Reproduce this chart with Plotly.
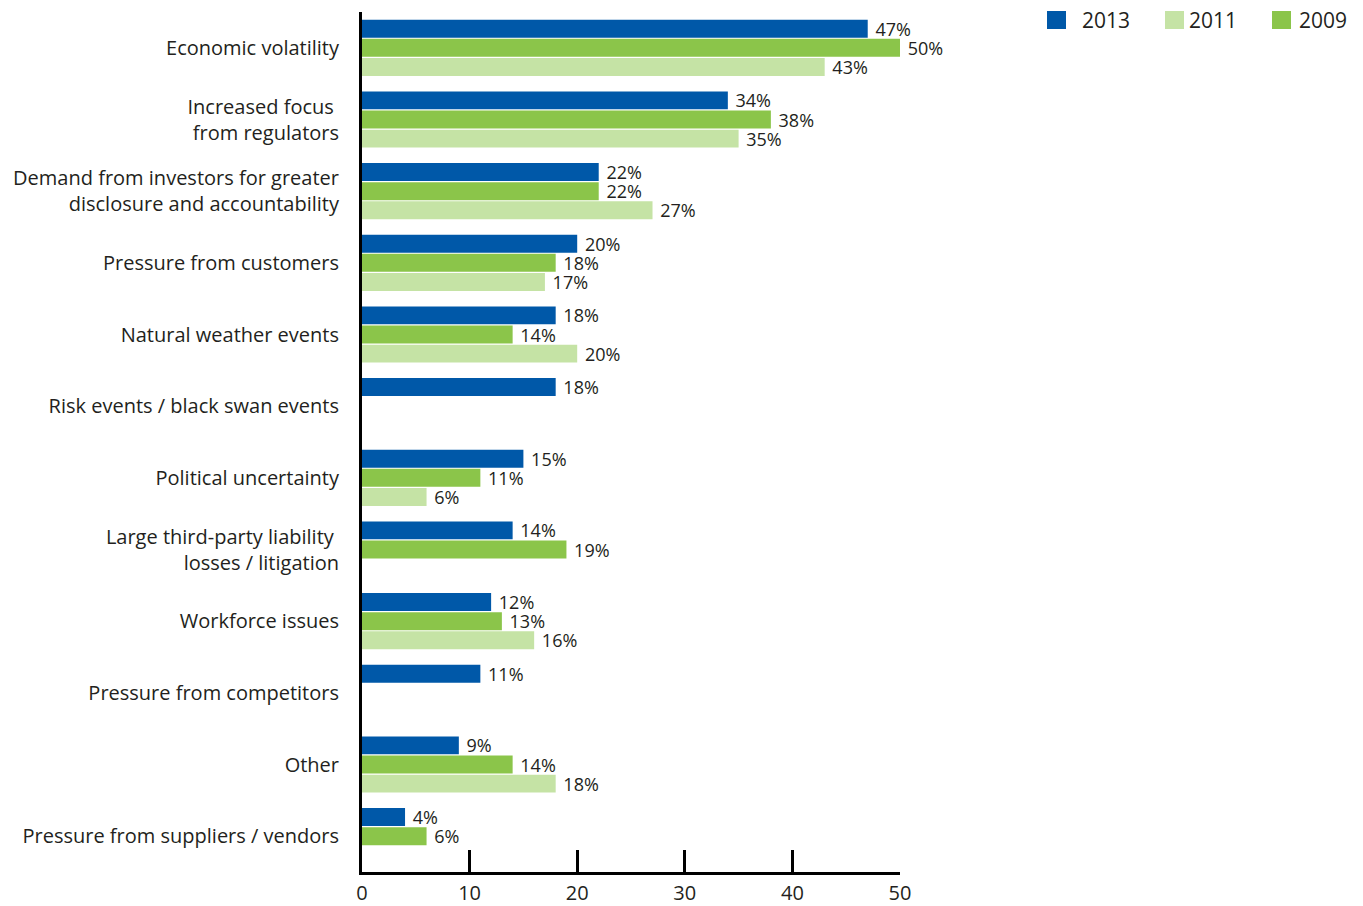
import plotly.graph_objects as go

# Drivers of risk management focus, share of respondents (%) by survey year
categories = [
    "Economic volatility",
    "Increased focus <br>from regulators",
    "Demand from investors for greater<br>disclosure and accountability",
    "Pressure from customers",
    "Natural weather events",
    "Risk events / black swan events",
    "Political uncertainty",
    "Large third-party liability <br>losses / litigation",
    "Workforce issues",
    "Pressure from competitors",
    "Other",
    "Pressure from suppliers / vendors",
]
values_2013 = [47, 34, 22, 20, 18, 18, 15, 14, 12, 11, 9, 4]
values_2009 = [50, 38, 22, 18, 14, None, 11, 19, 13, None, 14, 6]
values_2011 = [43, 35, 27, 17, 20, None, 6, None, 16, None, 18, None]

x_ticks = [0, 10, 20, 30, 40, 50]

COLOR_2013 = "#0058a8"
COLOR_2009 = "#8bc54a"
COLOR_2011 = "#c5e3a5"
TEXT = "#231f20"
FONT = "Open Sans"

W, H = 1363, 906
ML, MR, MT, MB = 362, 463, 12, 34
PW = W - ML - MR
PH = H - MT - MB


def px_x(px):
    return (px - ML) / PW


def px_y(py):
    return (H - MB - py) / PH


positions = list(range(len(categories)))

fig = go.Figure()
for name, vals, col in [
    ("2013", values_2013, COLOR_2013),
    ("2009", values_2009, COLOR_2009),
    ("2011", values_2011, COLOR_2011),
]:
    fig.add_trace(go.Bar(
        name=name,
        y=positions,
        x=vals,
        orientation="h",
        marker=dict(color=col, line=dict(width=0)),
        texttemplate="\u00a0%{x}%",
        textposition="outside",
        constraintext="none",
        outsidetextfont=dict(family=FONT, size=18, color=TEXT),
        cliponaxis=False,
        showlegend=False,
        hoverinfo="skip",
    ))

# legend: coloured squares with year labels, laid out left to right
legend_items = [
    ("2013", COLOR_2013, 1047, 1080),
    ("2011", COLOR_2011, 1165, 1187),
    ("2009", COLOR_2009, 1272, 1297),
]
shapes = []
annotations = []
for label, col, sx, tx in legend_items:
    shapes.append(dict(
        type="rect", xref="paper", yref="paper",
        x0=px_x(sx), x1=px_x(sx + 19), y0=px_y(29), y1=px_y(11),
        fillcolor=col, line=dict(width=0),
    ))
    annotations.append(dict(
        xref="paper", yref="paper", x=px_x(tx), y=px_y(20),
        xanchor="left", yanchor="middle", text=label, showarrow=False,
        font=dict(family=FONT, size=21, color=TEXT),
    ))

fig.update_layout(
    width=W, height=H,
    margin=dict(l=ML, r=MR, t=MT, b=MB, autoexpand=False),
    paper_bgcolor="white", plot_bgcolor="white",
    barmode="group", bargap=0.2, bargroupgap=0.06,
    font=dict(family=FONT, color=TEXT),
    shapes=shapes,
    annotations=annotations,
    xaxis=dict(
        range=[0, 50], tickvals=x_ticks, ticktext=[str(t) for t in x_ticks],
        ticks="inside", ticklen=22, tickwidth=3, tickcolor="black",
        showline=True, linewidth=3, linecolor="black",
        showgrid=False, zeroline=False, ticklabelstandoff=1,
        tickfont=dict(family=FONT, size=20, color=TEXT),
    ),
    yaxis=dict(
        range=[len(categories) - 0.5, -0.5],
        tickvals=positions, ticktext=categories,
        ticks="outside", ticklen=16, tickcolor="rgba(0,0,0,0)",
        showline=True, linewidth=3, linecolor="black",
        showgrid=False, zeroline=False,
        tickfont=dict(family=FONT, size=20, color=TEXT),
    ),
)

fig.write_html("out.html")
